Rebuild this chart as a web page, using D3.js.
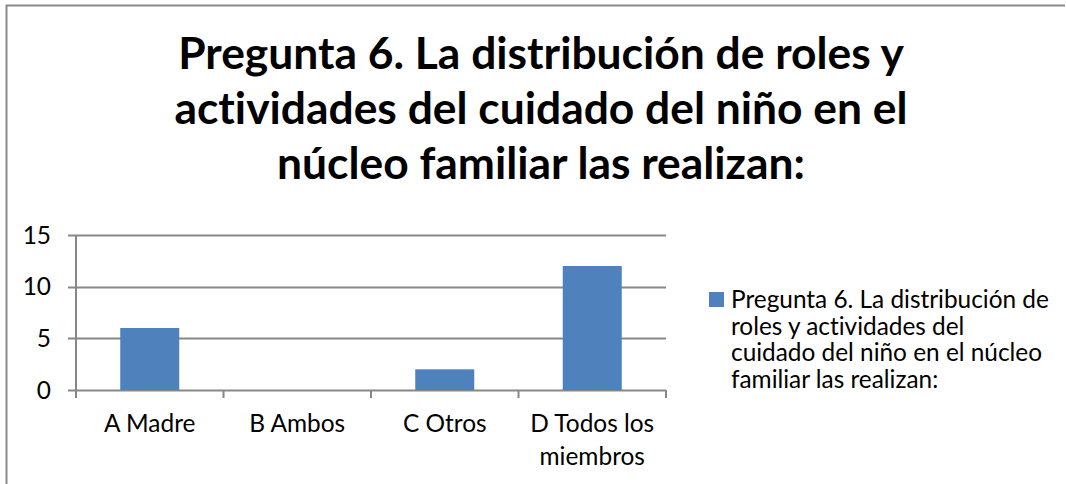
<!DOCTYPE html>
<html>
<head>
<meta charset="utf-8">
<script src="https://cdn.jsdelivr.net/npm/d3@7"></script>
<style>
  body { margin: 0; background: #fff; }
  text { font-family: Lato, "Open Sans", sans-serif; fill: #000; font-variant-ligatures: none; }
</style>
</head>
<body>
<div id="chart"></div>
<script>
// data
var categories = [["A Madre"], ["B Ambos"], ["C Otros"], ["D Todos los", "miembros"]];
var values = [6, 0, 2, 12];
var yTicks = [0, 5, 10, 15];
var titleLines = ["Pregunta 6. La distribución de roles y",
                  "actividades del cuidado del niño en el",
                  "núcleo familiar las realizan:"];
var legendLines = ["Pregunta 6. La distribución de",
                   "roles y actividades del",
                   "cuidado del niño en el núcleo",
                   "familiar las realizan:"];

var svgWidth = 1066, svgHeight = 484;
var plot = { left: 76, right: 666, top: 235, bottom: 390 };

var svg = d3.select("#chart").append("svg")
    .attr("width", svgWidth).attr("height", svgHeight);

// outer chart frame (only top + left edges show)
svg.append("path")
    .attr("d", "M6.5,484 V5.5 H1065")
    .attr("fill", "none")
    .attr("stroke", "#8a8a8a")
    .attr("stroke-width", 2);

// scale a font so a reference string gets a target width
function fitSize(str, target, weight) {
  var t = svg.append("text").attr("font-size", 40).attr("font-weight", weight).text(str);
  var w = t.node().getComputedTextLength();
  t.remove();
  return 40 * target / w;
}

// title
var titleSize = fitSize(titleLines[0], 726, "bold");
svg.append("g").selectAll("text")
  .data(titleLines)
  .enter()
  .append("text")
  .attr("x", 541)
  .attr("y", (d, i) => 69 + i * 55)
  .attr("text-anchor", "middle")
  .attr("font-weight", "bold")
  .attr("font-size", titleSize)
  .text(d => d);

var x = d3.scaleBand()
    .domain(categories.map(d => d.join(" ")))
    .range([plot.left, plot.right])
    .paddingInner(0.6)
    .paddingOuter(0.3);

var xTickScale = d3.scaleLinear()
    .domain([0, categories.length])
    .range([plot.left, plot.right]);

var y = d3.scaleLinear()
    .domain([0, 15])
    .range([plot.bottom, plot.top]);

var lineColor = "#878787";

// gridlines
svg.append("g").selectAll("line")
  .data(yTicks)
  .enter()
  .append("line")
  .attr("x1", plot.left - 8)
  .attr("x2", plot.right)
  .attr("y1", d => Math.round(y(d)) + 0.5)
  .attr("y2", d => Math.round(y(d)) + 0.5)
  .attr("stroke", lineColor)
  .attr("stroke-width", 2);

// y axis line
svg.append("line")
  .attr("x1", plot.left).attr("x2", plot.left)
  .attr("y1", y(15)).attr("y2", plot.bottom + 8)
  .attr("stroke", lineColor)
  .attr("stroke-width", 2);

// category tick marks
svg.append("g").selectAll("line")
  .data(d3.range(1, categories.length + 1))
  .enter()
  .append("line")
  .attr("x1", d => xTickScale(d))
  .attr("x2", d => xTickScale(d))
  .attr("y1", plot.bottom)
  .attr("y2", plot.bottom + 8)
  .attr("stroke", lineColor)
  .attr("stroke-width", 2);

var labelSize = fitSize("D Todos los", 124, "normal");

// y tick labels
svg.append("g").selectAll("text")
  .data(yTicks)
  .enter()
  .append("text")
  .attr("x", 51)
  .attr("y", d => y(d))
  .attr("dy", "0.35em")
  .attr("text-anchor", "end")
  .attr("font-size", labelSize)
  .text(d => d);

// bars
svg.append("g").selectAll("rect")
  .data(values)
  .enter()
  .append("rect")
  .attr("x", (d, i) => x(categories[i].join(" ")))
  .attr("y", d => y(d))
  .attr("width", x.bandwidth())
  .attr("height", d => y(0) - y(d))
  .attr("fill", "#4f81bd");

// category labels
var catLabels = svg.append("g").selectAll("text")
  .data(categories)
  .enter()
  .append("text")
  .attr("x", d => x(d.join(" ")) + x.bandwidth() / 2)
  .attr("y", 432)
  .attr("text-anchor", "middle")
  .attr("font-size", labelSize);

catLabels.selectAll("tspan")
  .data(d => d)
  .enter()
  .append("tspan")
  .attr("x", function() { return d3.select(this.parentNode).attr("x"); })
  .attr("dy", (d, i) => i === 0 ? 0 : 33)
  .text(d => d);

// legend
var legendSize = fitSize(legendLines[0], 318, "normal");
svg.append("rect")
  .attr("x", 709).attr("y", 292)
  .attr("width", 15).attr("height", 15)
  .attr("fill", "#4f81bd");

svg.append("g").selectAll("text")
  .data(legendLines)
  .enter()
  .append("text")
  .attr("x", 731)
  .attr("y", (d, i) => 308 + i * 26.7)
  .attr("font-size", legendSize)
  .text(d => d);
</script>
</body>
</html>
